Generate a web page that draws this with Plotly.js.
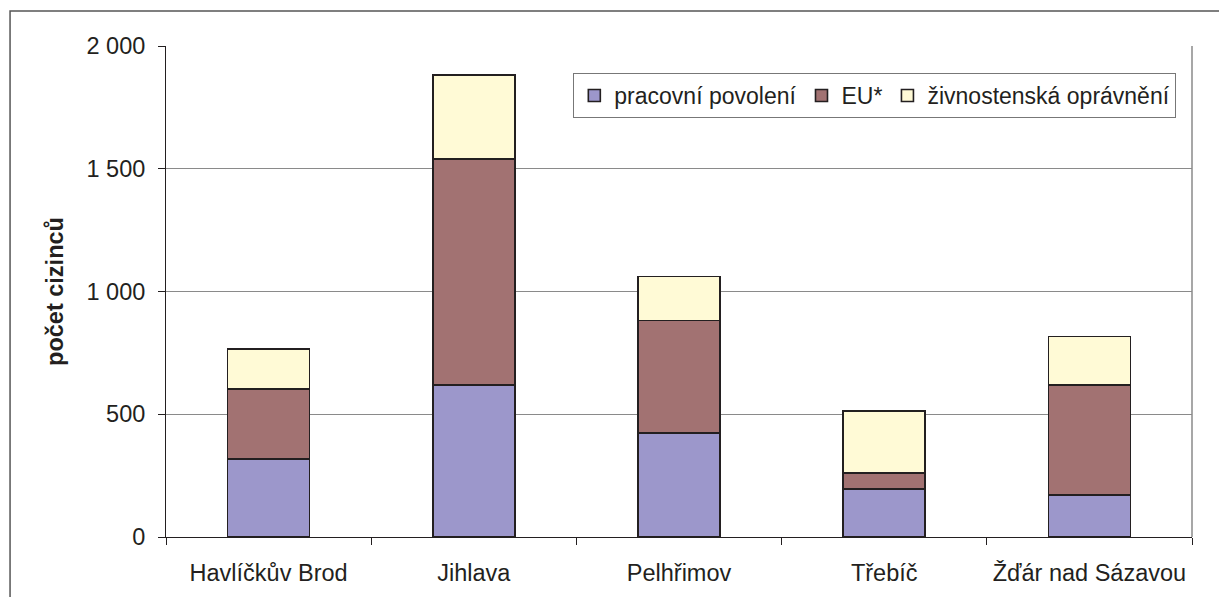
<!DOCTYPE html>
<html>
<head>
<meta charset="utf-8">
<script src="https://cdn.plot.ly/plotly-3.0.1.min.js"></script>
<style>html,body{margin:0;padding:0;background:#fff;}#chart{width:1219px;height:597px;}</style>
</head>
<body>
<div id="chart"></div>
<script>
const categories = ["Havlíčkův Brod", "Jihlava", "Pelhřimov", "Třebíč", "Žďár nad Sázavou"];
const pracovniPovoleni = [318, 620, 424, 196, 171];
const eu = [286, 919, 458, 65, 449];
const zivnostenska = [163, 343, 179, 253, 196];
const seriesNames = ["pracovní povolení", "EU*", "živnostenská oprávnění"];
const yTicks = [0, 500, 1000, 1500, 2000];

const colors = ["#9C97CB", "#A27272", "#FFFAD6"];
const seriesData = [pracovniPovoleni, eu, zivnostenska];
const traces = seriesData.map((vals, i) => ({
  type: "bar",
  name: seriesNames[i],
  x: categories,
  y: vals,
  marker: {color: colors[i], line: {color: "#231f20", width: 1.6}},
  hoverinfo: "x+y+name"
}));

const font = {family: "Liberation Sans, Arial, sans-serif", size: 23.5, color: "#231f20"};
const legendFont = {family: "Liberation Sans, Arial, sans-serif", size: 23, color: "#231f20"};

const layout = {
  width: 1219, height: 597,
  margin: {l: 166, r: 27, t: 46, b: 60},
  paper_bgcolor: "#fff", plot_bgcolor: "#fff",
  barmode: "stack",
  bargap: 0.6,
  separators: ", ",
  font: font,
  showlegend: true,
  legend: {
    orientation: "h", x: 0.397, y: 0.945, xanchor: "left", yanchor: "top",
    traceorder: "normal",
    bordercolor: "#777", borderwidth: 1, bgcolor: "#fff",
    font: legendFont, itemwidth: 30
  },
  xaxis: {
    type: "category",
    tickson: "boundaries",
    ticks: "outside", ticklen: 7, tickcolor: "#231f20", tickwidth: 1,
    showline: true, linecolor: "#231f20", linewidth: 1,
    showgrid: false,
    ticklabelstandoff: 15,
    tickfont: font
  },
  yaxis: {
    range: [0, 2000],
    tickvals: yTicks,
    separatethousands: true,
    tickformat: ",d",
    ticks: "outside", ticklen: 7, tickcolor: "#231f20", tickwidth: 1,
    showline: true, linecolor: "#231f20", linewidth: 1,
    showgrid: true, gridcolor: "#8a8a8a", gridwidth: 1,
    zeroline: false,
    ticklabelstandoff: 8,
    tickfont: font,
    title: {text: "<b>počet cizinců</b>", font: font, standoff: 16}
  },
  shapes: [
    {type: "line", xref: "paper", yref: "paper", x0: 1, x1: 1, y0: 0, y1: 1, line: {color: "#8a8a8a", width: 1.5}},
    {type: "path", xref: "paper", yref: "paper",
     path: "M -0.152,-0.2 L -0.152,1.0713 L 1.1,1.0713",
     line: {color: "#555", width: 1.5}}
  ]
};

Plotly.newPlot("chart", traces, layout, {displayModeBar: false, staticPlot: true});
</script>
</body>
</html>
